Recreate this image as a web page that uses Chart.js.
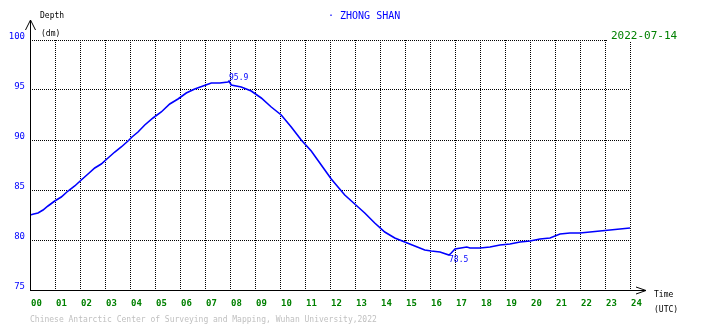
<!DOCTYPE html>
<html>
<head>
<meta charset="utf-8">
<script src="https://cdn.jsdelivr.net/npm/chart.js@4/dist/chart.umd.min.js"></script>
<style>
html,body{margin:0;padding:0;background:#fff;}
#wrap{width:710px;height:328px;position:relative;}
</style>
</head>
<body>
<div id="wrap"><canvas id="c" width="710" height="328"></canvas></div>
<script>
// ---- data ----
const stationName = "ZHONG SHAN";
const dateLabel = "2022-07-14";
const hours = [0.00,0.15,0.32,0.52,0.72,0.99,1.25,1.52,1.79,2.05,2.32,2.59,2.85,3.12,3.39,3.65,3.92,4.08,4.32,4.59,4.92,5.25,5.59,5.92,6.25,6.59,6.92,7.25,7.59,7.92,7.96,8.05,8.45,8.85,9.25,9.65,10.05,10.45,10.85,11.25,11.65,12.05,12.32,12.59,12.99,13.39,13.79,14.19,14.59,14.99,15.39,15.79,16.05,16.40,16.76,16.85,17.00,17.47,17.60,18.00,18.40,18.80,19.20,19.60,20.00,20.40,20.80,21.20,21.60,22.00,22.40,22.80,23.20,23.60,24.00];
const depth = [82.5,82.6,82.7,83.0,83.4,83.9,84.3,84.9,85.4,86.0,86.6,87.2,87.6,88.2,88.8,89.3,89.9,90.3,90.8,91.5,92.2,92.8,93.6,94.1,94.7,95.1,95.4,95.7,95.7,95.8,95.9,95.5,95.3,94.9,94.2,93.3,92.5,91.3,90.0,88.9,87.5,86.1,85.3,84.5,83.6,82.7,81.7,80.8,80.2,79.8,79.4,79.0,78.9,78.8,78.5,78.7,79.1,79.3,79.2,79.2,79.3,79.5,79.6,79.8,79.9,80.1,80.2,80.6,80.7,80.7,80.8,80.9,81.0,81.1,81.2];
const xTickLabels = ["00","01","02","03","04","05","06","07","08","09","10","11","12","13","14","15","16","17","18","19","20","21","22","23","24"];
const yTicks = [75,80,85,90,95,100];
const footerText = "Chinese Antarctic Center of Surveying and Mapping, Wuhan University,2022";

const points = hours.map((h,i)=>({x:h,y:depth[i]}));
const MONO = '"DejaVu Sans Mono", "Liberation Mono", monospace';

const deco = {
  id:'deco',
  afterDraw(chart){
    const ctx = chart.ctx;
    const xs = chart.scales.x, ys = chart.scales.y;
    const L = Math.round(xs.getPixelForValue(0)) + 0.5;
    const R = xs.getPixelForValue(24);
    const B = Math.round(ys.getPixelForValue(75)) + 0.5;
    const T = ys.getPixelForValue(100);
    ctx.save();
    ctx.strokeStyle = '#000';
    ctx.lineWidth = 1;
    ctx.setLineDash([]);
    // y axis with arrow
    ctx.beginPath();
    ctx.moveTo(L, B); ctx.lineTo(L, T - 20);
    ctx.moveTo(L - 5, T - 10); ctx.lineTo(L, T - 20); ctx.lineTo(L + 5, T - 10);
    // x axis with arrow
    ctx.moveTo(L, B); ctx.lineTo(R + 16, B);
    ctx.moveTo(R + 6, B - 3.5); ctx.lineTo(R + 16, B); ctx.lineTo(R + 6, B + 3.5);
    ctx.stroke();

    // white box behind date
    ctx.fillStyle = '#fff';
    ctx.fillRect(R - 23, T - 12, 70, 13);

    ctx.textBaseline = 'middle';
    ctx.textAlign = 'left';
    // axis names
    ctx.fillStyle = '#000';
    ctx.font = '8px ' + MONO;
    ctx.fillText('Depth', 40, 16);
    ctx.fillText('(dm)', 41, 33.5);
    ctx.fillText('Time', 654, 294.5);
    ctx.fillText('(UTC)', 654, 309.5);
    // title
    ctx.fillStyle = '#0000ff';
    ctx.font = '10px ' + MONO;
    ctx.fillText('\u00b7 ' + stationName, 328, 16.5);
    // date
    ctx.fillStyle = '#008000';
    ctx.font = '11px ' + MONO;
    ctx.fillText(dateLabel, 611, 36.5);
    // footer
    ctx.fillStyle = '#c0c0c0';
    ctx.font = '8px ' + MONO;
    ctx.fillText(footerText, 30, 320);

    // max / min annotations
    let iMax = 0, iMin = 0;
    depth.forEach((v,i)=>{ if (v > depth[iMax]) iMax = i; if (v < depth[iMin]) iMin = i; });
    ctx.fillStyle = '#0000ff';
    ctx.font = '8px ' + MONO;
    ctx.textBaseline = 'bottom';
    ctx.fillText(depth[iMax].toFixed(1), xs.getPixelForValue(hours[iMax]), ys.getPixelForValue(depth[iMax]) + 1);
    ctx.textBaseline = 'top';
    ctx.fillText(depth[iMin].toFixed(1), xs.getPixelForValue(hours[iMin]), ys.getPixelForValue(depth[iMin]) + 0.5);
    ctx.restore();
  }
};

new Chart(document.getElementById('c'), {
  type: 'line',
  data: {
    datasets: [{
      data: points,
      borderColor: '#0000ff',
      borderWidth: 1.6,
      pointRadius: 0,
      tension: 0,
      fill: false
    }]
  },
  options: {
    responsive: false,
    animation: false,
    devicePixelRatio: 1,
    layout: { padding: { top: 40, right: 80, left: 0, bottom: 0 } },
    plugins: { legend: { display: false }, tooltip: { enabled: false }, title: { display: false } },
    scales: {
      x: {
        type: 'linear', min: 0, max: 24,
        afterFit: s => { s.height = 38; },
        afterBuildTicks: s => { s.ticks = xTickLabels.map((t,i)=>({value:i})); },
        grid: { color: '#000', lineWidth: 1, drawTicks: false },
        border: { display: false, dash: [1,1] },
        ticks: {
          autoSkip: false, maxRotation: 0, align: 'start', padding: 8, labelOffset: 1,
          color: '#008000', font: { family: MONO, size: 9, weight: 'bold' },
          callback: (v,i) => xTickLabels[i]
        }
      },
      y: {
        type: 'linear', min: 75, max: 100,
        afterFit: s => { s.width = 30; },
        afterBuildTicks: s => { s.ticks = yTicks.map(v=>({value:v})); },
        grid: { color: '#000', lineWidth: 1, drawTicks: false },
        border: { display: false, dash: [1,1] },
        ticks: {
          padding: 5, labelOffset: -3,
          color: '#0000ff', font: { family: MONO, size: 9 },
          callback: v => String(v)
        }
      }
    }
  },
  plugins: [deco]
});
</script>
</body>
</html>
